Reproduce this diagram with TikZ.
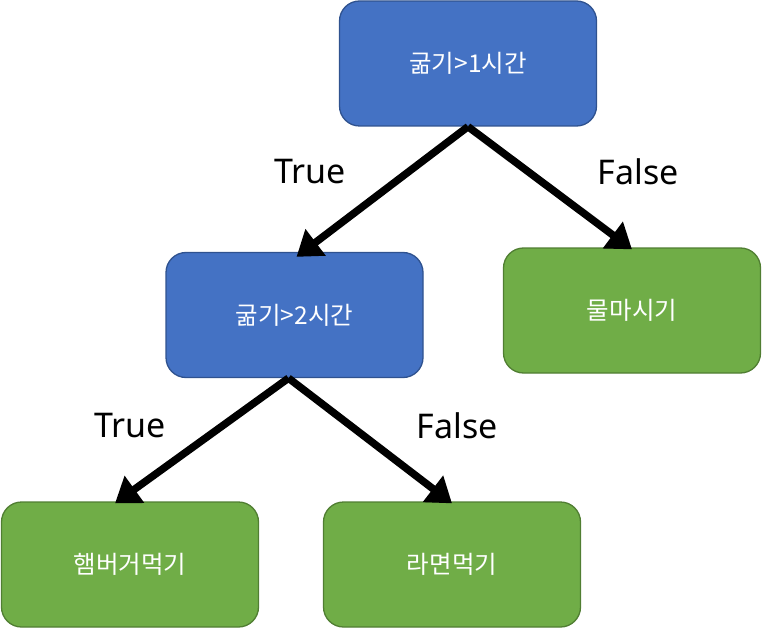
\documentclass[tikz,border=0pt]{standalone}
\usepackage{fontspec}
\setmainfont{Noto Sans}
\newfontfamily\kofont{Noto Sans CJK KR}
\usetikzlibrary{arrows.meta}
\definecolor{bfill}{HTML}{4472C4}
\definecolor{bdraw}{HTML}{2F528F}
\definecolor{gfill}{HTML}{70AD47}
\definecolor{gdraw}{HTML}{507E32}
\begin{document}
\begin{tikzpicture}[x=1pt,y=-1pt,
  box/.style={rounded corners=20pt, minimum width=257pt, minimum height=125pt, line width=1.3pt, inner sep=0pt, text=white, font=\kofont\fontsize{24.5}{28}\selectfont},
  bluebox/.style={box, fill=bfill, draw=bdraw},
  greenbox/.style={box, fill=gfill, draw=gdraw},
  conn/.style={line width=7.5pt, -{Triangle[length=24pt,width=32pt]}},
  lbl/.style={font=\fontsize{34}{40}\selectfont, inner sep=0pt}]
\useasboundingbox (0,0) rectangle (762,628);
\node[bluebox] (root) at (468,63.5) {굶기>1시간};
\node[bluebox] (mid) at (294.5,315) {굶기>2시간};
\node[greenbox] (water) at (632,310.5) {물마시기};
\node[greenbox] (burger) at (130,564.5) {햄버거먹기};
\node[greenbox] (ramen) at (452,564.5) {라면먹기};
\draw[conn] (root.south) -- ([xshift=2pt,yshift=-5pt]mid.north);
\draw[conn] (root.south) -- ([yshift=-2pt]water.north);
\draw[conn] ([xshift=-6pt]mid.south) -- ([xshift=-15pt,yshift=-2pt]burger.north);
\draw[conn] ([xshift=-6pt]mid.south) -- ([yshift=-2pt]ramen.north);
\node[lbl] (t1) at (310,172) {True};
\node[lbl] (f1) at (638,172) {False};
\node[lbl] (t2) at (130,426) {True};
\node[lbl] (f2) at (457,426) {False};
\end{tikzpicture}
\end{document}
